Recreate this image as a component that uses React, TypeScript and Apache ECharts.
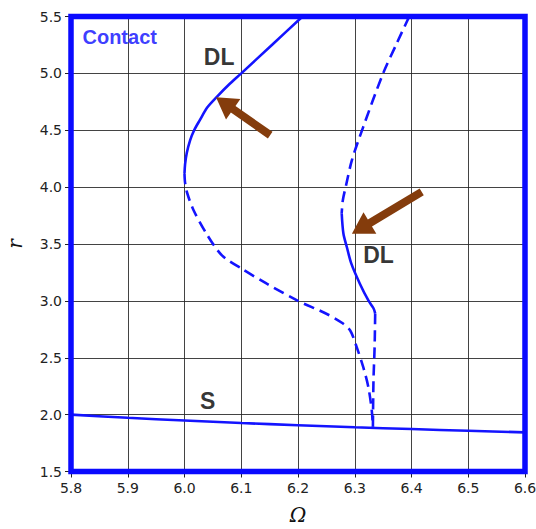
import React, { useEffect, useRef } from "react";
import * as echarts from "echarts";

// Ω tick labels and r tick labels
const xTicks = ["5.8", "5.9", "6.0", "6.1", "6.2", "6.3", "6.4", "6.5", "6.6"];
const yTicks = ["1.5", "2.0", "2.5", "3.0", "3.5", "4.0", "4.5", "5.0", "5.5"];

// Saturation branch S
const sBranch: [number, number][] = [
  [5.8, 2.0], [5.9, 1.972], [6.0, 1.948], [6.1, 1.926], [6.2, 1.907],
  [6.3, 1.889], [6.4, 1.873], [6.5, 1.858], [6.6, 1.844],
];

// Left DL loop: stable upper part
const leftStable: [number, number][] = [
  [6.208, 5.5], [6.154, 5.25], [6.1, 5.0], [6.078, 4.9], [6.057, 4.794],
  [6.04, 4.7], [6.027, 4.589], [6.017, 4.5], [6.01, 4.413], [6.004, 4.3],
  [6.001, 4.2], [6.0, 4.12],
];

// Left DL loop: unstable lower part
const leftUnstable: [number, number][] = [
  [6.0, 4.12], [6.001, 4.04], [6.005, 3.944], [6.016, 3.797], [6.04, 3.58],
  [6.066, 3.4], [6.1, 3.285], [6.145, 3.151], [6.2, 3.0], [6.25, 2.887],
  [6.278, 2.805], [6.292, 2.74], [6.303, 2.6], [6.315, 2.417], [6.324, 2.241],
  [6.33, 2.036], [6.332, 1.89],
];

// Right DL loop: unstable upper part
const rightUnstableTop: [number, number][] = [
  [6.396, 5.5], [6.374, 5.264], [6.35, 5.0], [6.315, 4.53], [6.295, 4.237],
  [6.284, 4.0], [6.279, 3.885], [6.277, 3.77],
];

// Right DL loop: stable middle part
const rightStable: [number, number][] = [
  [6.277, 3.77], [6.28, 3.592], [6.286, 3.474], [6.294, 3.327], [6.309, 3.151],
  [6.324, 3.004], [6.333, 2.935], [6.336, 2.89],
];

// Right DL loop: unstable lower part
const rightUnstableBottom: [number, number][] = [
  [6.336, 2.89], [6.335, 2.593], [6.333, 2.3], [6.332, 1.89],
];

// Arrows: [tailΩ, tailR, tipΩ, tipR]
const arrows: number[][] = [
  [6.151, 4.457, 6.0555, 4.791],
  [6.418, 3.958, 6.295, 3.59],
];

// Branch labels
const branchLabels = [
  { name: "DL", value: [6.061, 5.146] },
  { name: "DL", value: [6.342, 3.403] },
  { name: "S", value: [6.041, 2.124] },
];
const contactLabel = { name: "Contact", value: [5.8858, 5.32] };

const BLUE = "#1414ff";
const BROWN = "#843C0C";

export default function App() {
  const ref = useRef<HTMLDivElement>(null);

  useEffect(() => {
    document.body.style.margin = "0";
    if (!ref.current) return;
    const chart = echarts.init(ref.current, null, { renderer: "svg" });

    const curve = (data: [number, number][], dashed: boolean) => ({
      type: "line",
      data,
      smooth: 0.3,
      showSymbol: false,
      symbol: "none",
      lineStyle: {
        color: BLUE,
        width: 2.6,
        type: dashed ? [11, 6] : "solid",
      },
      silent: true,
      z: 3,
    });

    chart.setOption({
      animation: false,
      backgroundColor: "#fff",
      grid: {
        left: 71,
        top: 16.5,
        width: 454,
        height: 455,
        outerBoundsMode: "none",
        containLabel: false,
        show: true,
        borderColor: "#0a0aff",
        borderWidth: 5.5,
        backgroundColor: "transparent",
        z: 4,
      },
      xAxis: {
        type: "value",
        min: 5.8,
        max: 6.6,
        interval: 0.1,
        name: "Ω",
        nameLocation: "middle",
        nameGap: 33,
        nameTextStyle: {
          fontFamily: "DejaVu Serif",
          fontStyle: "italic",
          fontSize: 20,
          color: "#111",
        },
        axisLine: { show: false },
        axisTick: { show: true, length: 6, lineStyle: { color: "#222" } },
        axisLabel: {
          margin: 9,
          fontFamily: "DejaVu Sans",
          fontSize: 14,
          color: "#222",
          formatter: (v: number) => {
            const s = v.toFixed(1);
            return xTicks.includes(s) ? s : "";
          },
        },
        splitLine: { show: true, lineStyle: { color: "#222", width: 1, opacity: 0.85 } },
      },
      yAxis: {
        type: "value",
        min: 1.5,
        max: 5.5,
        interval: 0.5,
        name: "r",
        nameLocation: "middle",
        nameGap: 46,
        nameRotate: 90,
        nameTextStyle: {
          fontFamily: "DejaVu Serif",
          fontStyle: "italic",
          fontSize: 20,
          color: "#111",
        },
        axisLine: { show: false },
        axisTick: { show: true, length: 6, lineStyle: { color: "#222" } },
        axisLabel: {
          margin: 9,
          fontFamily: "DejaVu Sans",
          fontSize: 14,
          color: "#222",
          formatter: (v: number) => {
            const s = v.toFixed(1);
            return yTicks.includes(s) ? s : "";
          },
        },
        splitLine: { show: true, lineStyle: { color: "#222", width: 1, opacity: 0.85 } },
      },
      series: [
        curve(sBranch, false),
        curve(leftStable, false),
        curve(leftUnstable, true),
        curve(rightUnstableTop, true),
        curve(rightStable, false),
        curve(rightUnstableBottom, true),
        {
          type: "custom",
          coordinateSystem: "cartesian2d",
          encode: { x: [0, 2], y: [1, 3] },
          data: arrows,
          silent: true,
          z: 5,
          renderItem: (_params: any, api: any) => {
            const p0 = api.coord([api.value(0), api.value(1)]);
            const p1 = api.coord([api.value(2), api.value(3)]);
            const dx = p1[0] - p0[0];
            const dy = p1[1] - p0[1];
            const len = Math.sqrt(dx * dx + dy * dy);
            const ux = dx / len;
            const uy = dy / len;
            const nx = -uy;
            const ny = ux;
            const shaft = 4;
            const headHalf = 12.5;
            const headLen = 21;
            const bx = p1[0] - ux * headLen;
            const by = p1[1] - uy * headLen;
            const points = [
              [p0[0] + nx * shaft, p0[1] + ny * shaft],
              [bx + nx * shaft, by + ny * shaft],
              [bx + nx * headHalf, by + ny * headHalf],
              [p1[0], p1[1]],
              [bx - nx * headHalf, by - ny * headHalf],
              [bx - nx * shaft, by - ny * shaft],
              [p0[0] - nx * shaft, p0[1] - ny * shaft],
            ];
            return {
              type: "polygon",
              shape: { points },
              style: { fill: BROWN },
            };
          },
        },
        {
          type: "scatter",
          data: branchLabels,
          symbolSize: 0,
          silent: true,
          z: 6,
          label: {
            show: true,
            position: "inside",
            formatter: (p: any) => p.name,
            fontFamily: "Liberation Sans",
            fontWeight: "bold",
            fontSize: 23,
            color: "#000",
            textBorderWidth: 0,
          },
        },
        {
          type: "scatter",
          data: [contactLabel],
          symbolSize: 0,
          silent: true,
          z: 6,
          label: {
            show: true,
            position: "inside",
            formatter: (p: any) => p.name,
            fontFamily: "Liberation Sans",
            fontWeight: "bold",
            fontSize: 20,
            color: "#0a0aff",
            textBorderWidth: 0,
          },
        },
      ],
    });

    return () => chart.dispose();
  }, []);

  return <div ref={ref} style={{ width: 536, height: 529 }} />;
}
